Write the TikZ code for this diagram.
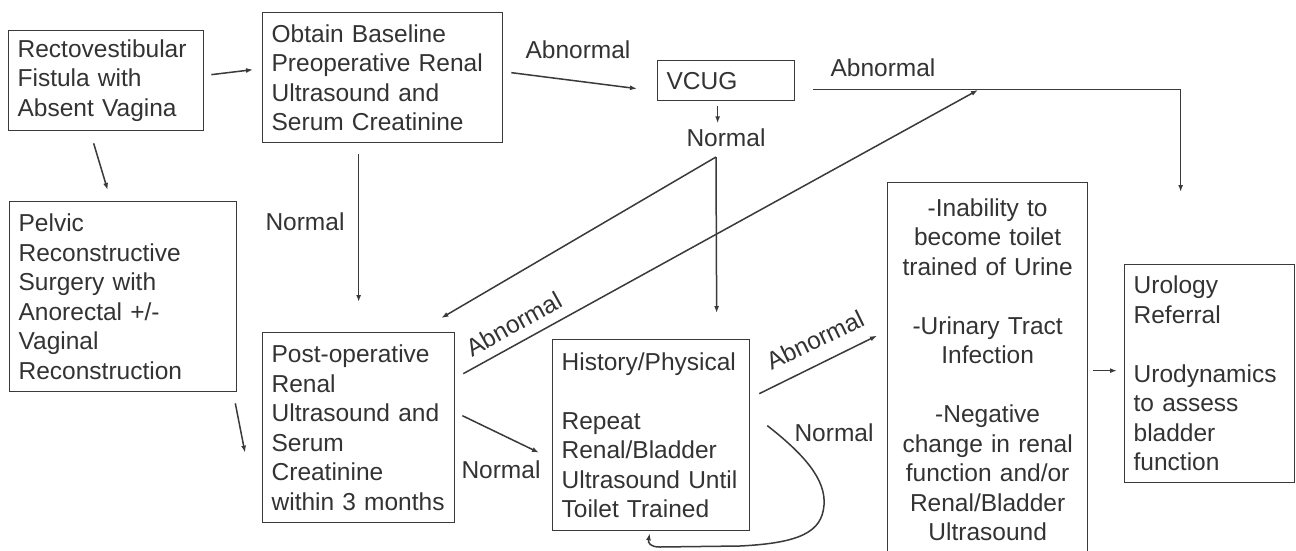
\documentclass[tikz,border=0pt]{standalone}
\usepackage{fontspec}
\setmainfont{Liberation Sans}
\usetikzlibrary{arrows.meta}
\definecolor{ink}{HTML}{3A3A3A}
\definecolor{txt}{HTML}{333333}
\begin{document}
\begin{tikzpicture}[x=1pt,y=-1pt,
  every node/.style={font=\fontsize{24.5}{29.5}\selectfont, text=txt},
  box/.style={draw=ink, line width=1.3pt, anchor=north west, inner xsep=9pt, inner ysep=0pt, align=left},
  lbl/.style={inner sep=0pt},
  arr/.style={draw=ink, line width=1.5pt, -{Latex[length=7pt,width=5pt]}}]
\useasboundingbox (0,0) rectangle (1296,550);
\clip (0,0) rectangle (1296,550);
\fill[white] (0,0) rectangle (1296,550);

% boxes
\node[box, text width=177pt, minimum height=100pt] (A) at (8,30) {Rectovestibular\\Fistula with\\Absent Vagina};
\node[box, text width=222pt, minimum height=130pt] (B) at (262,12) {Obtain Baseline\\Preoperative Renal\\Ultrasound and\\Serum Creatinine};
\node[box, text width=209pt, minimum height=190pt] (C) at (9,201) {Pelvic\\Reconstructive\\Surgery with\\Anorectal +/-\\Vaginal\\Reconstruction};
\node[box, text width=174pt, minimum height=190pt] (D) at (262,332) {Post-operative\\Renal\\Ultrasound and\\Serum\\Creatinine\\within 3 months};
\node[box, text width=179pt, minimum height=191pt] (E) at (552,339) {History/Physical\\[29.5pt]Repeat\\Renal/Bladder\\Ultrasound Until\\Toilet Trained};
\node[box, text width=182pt, minimum height=374pt, align=center] (F) at (887,182) {-Inability to\\become toilet\\trained of Urine\\[29.5pt]-Urinary Tract\\Infection\\[29.5pt]-Negative\\change in renal\\function and/or\\Renal/Bladder\\Ultrasound};
\node[box, text width=152pt, minimum height=218pt] (G) at (1124,264) {Urology\\Referral\\[29.5pt]Urodynamics\\to assess\\bladder\\function};
\node[box, text width=119pt, minimum height=40pt] (V) at (657,60) {VCUG};

% labels
\node[lbl] (ab1) at (578,50) {Abnormal};
\node[lbl] (ab2) at (883,68) {Abnormal};
\node[lbl] (vn) at (726,138) {Normal};
\node[lbl] (n1) at (305,222) {Normal};
\node[lbl] (n2) at (501,470) {Normal};
\node[lbl, rotate=29] (ab3) at (514,324) {Abnormal};
\node[lbl, rotate=26] (ab4) at (815,340) {Abnormal};
\node[lbl] (n3) at (834,433) {Normal};

\coordinate (vsplit) at (716,157);
\coordinate (tip) at (978,90);

% connectors
\draw[arr] ([shift={(7,-6)}]A.east) -- ([shift={(-9,-8)}]B.west);
\draw[arr] ([shift={(-12.5,12)}]A.south) -- ([shift={(-15.5,-11)}]C.north);
\draw[arr] ([shift={(-2,11)}]C.south east) -- ([shift={(-17,25)}]D.west);
\draw[arr] ([shift={(-24,11)}]B.south) -- ([shift={(0,-30)}]D.north);
\draw[arr] ([shift={(8,-5)}]B.east) -- ([shift={(-20,8)}]V.west);
\draw[arr] ([shift={(-8.5,5)}]V.south) -- ([shift={(-8.5,22)}]V.south);
\draw[arr] (vsplit) -- ([shift={(-14,-14)}]D.north east);
\draw[arr] (vsplit) -- ([shift={(65.5,-26)}]E.north);
\draw[arr] ([shift={(8,-54)}]D.east) -- (tip);
\draw[arr] ([shift={(18,9)}]V.east) -| ([shift={(-29,-72)}]G.north);
\draw[arr] ([shift={(7,-12)}]D.east) -- ([shift={(-13,17.5)}]E.west);
\draw[arr] ([shift={(9,-41.5)}]E.east) -- ([shift={(-10,-34)}]F.west);
\draw[arr] ([shift={(17,-9.5)}]E.east) .. controls (805,455) and (826,480) .. (824,505)
  .. controls (822,532) and (800,543) .. (740,546) -- (660,547)
  .. controls (650,547) and (648,543) .. ([shift={(-1.5,2)}]E.south);
\draw[arr] ([shift={(5,1)}]F.east) -- ([shift={(-7,-3)}]G.west);
\end{tikzpicture}
\end{document}
